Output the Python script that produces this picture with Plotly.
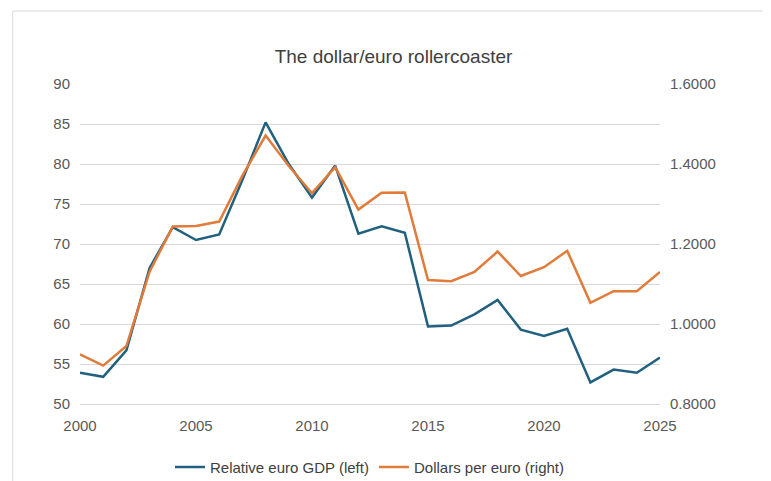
import plotly.graph_objects as go

years = list(range(2000, 2026))
gdp = [53.9, 53.4, 56.7, 67.0, 72.1, 70.5, 71.2, 78.0, 85.2, 80.0, 75.8, 79.8, 71.3, 72.2, 71.4,
       59.7, 59.8, 61.2, 63.0, 59.3, 58.5, 59.4, 52.7, 54.3, 53.9, 55.8]
usd = [0.924, 0.896, 0.945, 1.131, 1.244, 1.245, 1.256, 1.371, 1.471, 1.395, 1.327, 1.392, 1.286,
       1.328, 1.329, 1.110, 1.107, 1.130, 1.181, 1.120, 1.142, 1.183, 1.053, 1.082, 1.082, 1.130]

fig = go.Figure()
fig.add_trace(go.Scatter(x=years, y=gdp, mode="lines", name="Relative euro GDP (left)",
                         line=dict(color="#21607F", width=2.5)))
fig.add_trace(go.Scatter(x=years, y=usd, mode="lines", name="Dollars per euro (right)",
                         line=dict(color="#E07B39", width=2.5), yaxis="y2"))
font = dict(family="Liberation Sans, Arial", size=15, color="#595959")
fig.update_layout(
    width=771, height=481, paper_bgcolor="white", plot_bgcolor="white",
    margin=dict(l=72, r=119, t=76, b=85, autoexpand=False),
    title=dict(text="The dollar/euro rollercoaster", x=0.5, xanchor="center", y=0.913,
               font=dict(family="Liberation Sans, Arial", size=19, color="#404040")),
    font=font,
    xaxis=dict(range=[2000, 2025], tickvals=[2000, 2005, 2010, 2015, 2020, 2025],
               showgrid=False, showline=True, linecolor="#D9D9D9", ticks="outside",
               ticklen=8, tickcolor="white", zeroline=False),
    yaxis=dict(range=[50, 90], dtick=5, gridcolor="#D9D9D9", zeroline=False, showline=False,
               ticks="outside", ticklen=6, tickcolor="white"),
    yaxis2=dict(range=[0.8, 1.6], dtick=0.2, tickformat=".4f", overlaying="y", side="right",
                showgrid=False, zeroline=False, ticks="outside", ticklen=6, tickcolor="white"),
    legend=dict(orientation="h", x=0.5, xanchor="center", yref="container", y=0.045,
                yanchor="middle",
                font=dict(family="Liberation Sans, Arial", size=15, color="#404040")),
    shapes=[dict(type="rect", xref="paper", yref="paper", x0=-0.116, x1=1.19, y0=-0.256, y1=1.228,
                 line=dict(color="#D9D9D9", width=1))],
)
fig.write_html("out.html")
